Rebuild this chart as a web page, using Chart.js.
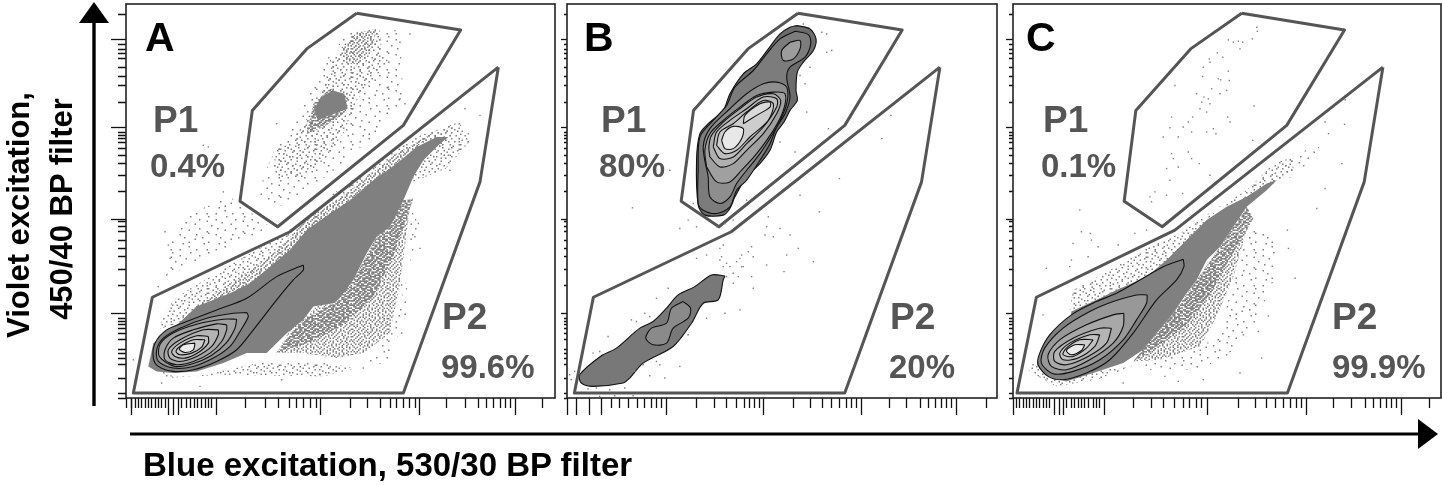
<!DOCTYPE html>
<html><head><meta charset="utf-8">
<style>
html,body{margin:0;padding:0;background:#fff;width:1442px;height:486px;overflow:hidden}
canvas{position:absolute;top:0}
.t{position:absolute;font-family:"Liberation Sans",Arial,sans-serif;font-weight:700;line-height:1;white-space:nowrap}
.g{color:#555}.k{color:#000}
.L{font-size:41px;top:17px}.P{font-size:37px}.N{font-size:33px}
.p1{top:101px}.n1{top:149px}.p2{top:298px}.n2{top:350px}
.ax{color:#000}
svg{position:absolute;left:0;top:0}
</style>
<script src="https://cdn.jsdelivr.net/npm/chart.js@4"></script>
</head><body>
<canvas id="ca" width="459" height="420" style="left:100px"></canvas>
<canvas id="cb" width="442" height="420" style="left:559px"></canvas>
<canvas id="cc" width="442" height="420" style="left:1003px"></canvas>
<svg width="1442" height="486">
<line x1="94" y1="20" x2="94" y2="406" stroke="#000" stroke-width="3.4"/>
<polygon points="94,2 79,23 109,23" fill="#000"/>
<line x1="130" y1="434" x2="1420" y2="434" stroke="#000" stroke-width="3.2"/>
<polygon points="1438,434 1418,419 1418,449" fill="#000"/>
</svg>
<div class="t k L" style="left:145px">A</div>
<div class="t g P p1" style="left:153px">P1</div><div class="t g N n1" style="left:150px">0.4%</div>
<div class="t g P p2" style="left:442px">P2</div><div class="t g N n2" style="left:441px">99.6%</div>
<div class="t k L" style="left:584px">B</div>
<div class="t g P p1" style="left:601px">P1</div><div class="t g N n1" style="left:599px">80%</div>
<div class="t g P p2" style="left:890px">P2</div><div class="t g N n2" style="left:889px">20%</div>
<div class="t k L" style="left:1026px">C</div>
<div class="t g P p1" style="left:1043px">P1</div><div class="t g N n1" style="left:1041px">0.1%</div>
<div class="t g P p2" style="left:1332px">P2</div><div class="t g N n2" style="left:1332px">99.9%</div>
<div class="t ax" style="left:143px;top:448px;font-size:33px">Blue excitation, 530/30 BP filter</div>
<div class="t ax" style="left:18px;top:215px;font-size:31px;transform:translate(-50%,-50%) rotate(-90deg)">Violet excitation,</div>
<div class="t ax" style="left:61px;top:209px;font-size:31px;transform:translate(-50%,-50%) rotate(-90deg)">450/40 BP filter</div>
<script>
// Channel units on both axes (unlabelled instrument scales)
const yMajor=[1077,813,538,253];
const yMinor=[1153,1062,1047,1035,1020,995,967,940,890,800,790,780,767,750,730,705,670,622,530,515,500,475,450,425,385,337,240,230,220,210,195,175,145,135,120,100,60,15,0];
const aXMajor=[15,126,141,156,270,584,880,1167];
const aXMinor=[0,17,27,37,47,57,67,77,87,97,107,117,167,182,192,204,214,227,237,247,257,357,419,457,490,512,532,552,570,672,724,762,792,812,832,850,867,962,1017,1057,1082,1102,1122,1137,1152,1249];
const bXMajor=[0,28,66,103,298,590,883,1168];
const bXMinor=[133,158,183,210,233,253,268,283,388,443,478,508,531,548,563,576,678,728,766,793,816,838,853,866,966,1018,1058,1083,1103,1123,1138,1153,1256];
const cXMajor=[0,125,140,150,275,582,878,1163];
const cXMinor=[10,20,30,40,50,60,70,80,90,100,110,160,175,185,195,205,215,225,240,250,260,360,415,450,485,510,530,550,565,675,725,760,785,810,830,850,865,960,1015,1055,1080,1100,1120,1135,1150,1247];

// Gates
const gateP1AB=[692,1157,1004,1107,832,820,455,515,342,592,379,865,542,1050];
const gateP2AB=[1117,995,1062,650,832,15,22,15,79,303,492,500];
const gateP1C=[685,1157,993,1107,820,820,447,515,333,592,368,865,532,1050];
const gateP2C=[1108,995,1052,650,822,15,12,15,70,303,485,505];

// Panel A: density regions
const aCloud=[67,95,82,165,142,210,212,275,312,315,372,345,432,395,492,445,542,505,612,555,672,595,742,655,812,705,872,755,932,785,967,785,942,765,892,715,862,665,832,595,792,515,752,485,722,435,682,355,652,315,622,285,562,275,532,235,482,195,422,135,362,135,292,105,212,80,142,75,92,80];
const aDense=[492,205,572,275,672,315,722,405,792,515,852,575,822,345,792,195,712,135,632,120,532,135,452,135];
const aNearCloud=[532,235,622,285,682,355,752,485,832,595,862,600,800,420,740,300,650,220,560,170,450,135];
const aBand=[202,270,312,345,432,425,542,535,672,625,812,735,932,805,872,755,672,590,362,315,212,270];
const aUpper=[92,205,142,295,202,335,322,405,452,480,532,535,622,615,762,715,872,785,992,825,962,765,852,725,612,535,492,425,362,315,222,245];
const aAbove=[122,355,132,465,192,555,312,605,432,515,312,455,192,405];
const aFringe=[62,105,142,65,242,70,392,105,592,105,692,90,592,65,292,70,122,60];
const aRightEdge=[852,575,880,520,840,350,800,200,720,110,780,100,840,250];
const aTail=[872,785,1000,830,1030,770,960,690,860,650];
const aP1Blob=[620,925,655,915,665,870,610,850,575,835,565,870,585,905];
const aP1BlobHalo=[542,795,562,885,612,930,667,905,652,855,592,815];
const aP1Top=[692,1100,752,1110,742,1065,702,1005,652,1005,652,1055];
const aP1Medium=[492,765,552,855,592,935,612,1015,682,1095,762,1105,772,995,692,895,652,795,592,715,532,665,452,665,442,745];
const aP1Sparse=[392,605,432,715,492,815,592,1005,672,1105,822,1105,832,895,752,795,612,675,472,575];
const aContours=[
 [532,400,452,365,362,300,272,265,182,230,122,205,87,165,82,120,97,95,142,80,202,85,272,110,332,145,382,205,452,295,502,355,532,385],
 [362,257,322,255,242,240,162,210,112,180,92,145,97,110,142,90,202,95,262,120,312,155,342,200,367,245],
 [332,237,292,237,212,222,140,195,103,163,100,125,147,95,200,103,255,127,300,165,327,210],
 [302,220,272,223,202,205,142,180,117,145,117,115,152,100,202,110,252,135,287,170,302,205],
 [277,205,232,205,162,175,127,145,132,120,162,110,212,125,257,155,277,190],
 [247,185,212,187,162,165,137,140,147,125,177,120,217,137,247,165],
 [237,175,202,175,162,155,150,140,162,130,197,135,227,153],
 [207,165,172,160,160,147,177,137,202,145]];
const aContourGrey=['#808080','#969696','#a0a0a0','#a8a8a8','#b4b4b4','#c2c2c2','#cecece','#ececec'];
const aDots=[852,1095,807,1105,822,1070,782,1015,787,935,822,900,837,885,1062,850,1017,870,1027,795,967,730,972,685,877,525,867,485,882,450,827,340,827,195,712,90,582,70,467,55,292,80,222,35,107,45,22,115,232,760,247,755,292,620,117,500,127,460,132,420,122,370,97,335,452,825];

// Panel B
const bContours=[
 [688,1120,728,1110,746,1080,738,1045,708,1010,690,980,686,925,690,895,668,865,650,830,628,800,608,745,578,705,538,665,503,605,488,570,468,550,413,550,393,580,388,715,398,795,423,825,468,865,488,915,528,975,568,1005,603,1050,638,1095,668,1115],
 [683,1103,723,1093,730,1065,713,1025,668,995,658,965,668,905,653,855,628,815,608,765,578,715,538,655,508,625,488,575,448,555,408,565,393,585,393,685,398,785,438,835,478,880,503,935,558,985,598,1035,638,1080],
 [668,1070,698,1075,698,1050,678,1020,648,1015,643,1045],
 [423,665,428,605,458,585,488,605,508,645,538,685,578,735,628,815,658,885,658,935,628,950,588,945,538,915,488,870,428,810,408,755],
 [418,695,448,650,488,650,523,685,568,735,618,805,648,865,653,915,618,920,568,910,518,875,468,835,428,795,413,745],
 [428,725,458,695,498,705,538,745,588,795,628,855,640,895,618,915,568,905,518,870,468,830,433,790,425,755],
 [438,755,458,720,498,725,538,765,588,815,628,875,628,900,588,905,538,870,488,835,448,800],
 [448,760,473,735,508,745,548,785,603,835,618,885,588,895,538,860,498,825,458,800],
 [528,825,568,850,608,875,608,890,578,885,533,850],
 [463,775,473,750,498,750,523,780,528,810,498,817,473,800]];
const bContourGrey=['#6c6c6c','#7c7c7c','#9c9c9c','#8e8e8e','#a0a0a0','#b0b0b0','#bebebe','#cdcdcd','#dadada','#e8e8e8'];
const bLow=[473,367,433,370,383,335,333,310,298,270,258,230,218,210,148,150,103,127,38,70,43,45,78,35,168,45,188,60,228,105,318,155,373,225,408,285,453,295,468,355];
const bLowInner=[348,290,370,270,363,240,318,210,298,165,258,160,236,180,253,210,298,225,313,270];
const bDots=[8,70,13,55,23,80,78,135,98,140,123,185,193,235,208,230,233,255,248,245,268,300,303,330,308,275,203,80,248,67,228,100,268,110,278,100,338,95,293,60,363,190,418,240,473,255,518,265,388,420,418,430,458,450,468,460,463,425,478,405,508,410,518,420,528,395,498,375,478,365,553,455,598,515,603,545,638,510,593,490,618,485,668,490,693,450,658,430,650,380,738,410,553,365,558,330,498,345,523,430,458,415,543,440,558,425,598,400,468,395,488,395,513,365,523,395,338,510,363,535,388,515,378,585,448,515,473,525,498,535,196,572,308,685,698,610,756,560,816,660,943,780,970,850,783,810,718,860,713,945,698,970,728,995,778,1040,793,1045,763,1100,778,1095,708,1125,683,740,638,770,538,595,98,5,143,7,198,7,63,27,128,25,88,30,173,30];

// Panel C
const cCloud=[790,655,760,645,700,605,640,575,580,535,520,475,460,415,400,365,310,325,260,300,175,260,170,225,130,195,90,155,75,100,110,65,160,50,240,75,330,105,390,145,430,195,480,255,520,315,550,355,580,415,620,455,660,515,700,575,760,625];
const cDense=[430,195,480,255,560,355,600,405,660,475,700,505,660,365,610,245,560,155,440,115,360,110];
const cNearCloud=[430,195,480,255,550,355,620,455,700,575,720,540,650,420,590,310,520,220,430,150,360,110];
const cSparse=[700,515,790,495,790,375,730,235,680,155,580,95,460,75,360,95,610,175,660,345];
const cUpper=[170,265,180,325,290,385,410,455,500,495,600,565,700,625,780,705,840,725,840,685,750,625,610,565,510,450,380,355,260,285];
const cTail=[760,635,840,725,920,770,910,725,820,655];
const cFringe=[45,85,75,65,130,35,250,55,360,95,260,85,110,70,80,110];
const cContours=[
 [510,417,450,395,380,355,310,315,250,290,175,250,110,190,80,135,75,100,105,65,150,55,220,75,290,115,360,195,430,295,490,355,512,395],
 [402,310,370,310,300,290,230,260,150,210,95,150,85,105,120,73,180,80,260,115,330,175,370,235,400,285],
 [332,255,300,250,220,220,140,175,105,130,115,95,160,85,230,115,300,165,330,215],
 [295,210,260,210,180,180,125,140,125,110,160,100,225,125,280,165],
 [260,190,230,190,170,165,140,135,150,115,195,120,245,155],
 [240,175,200,175,160,150,150,130,180,125,220,150],
 [215,160,185,160,160,143,175,130,205,143]];
const cContourGrey=['#808080','#989898','#a8a8a8','#b4b4b4','#c2c2c2','#cecece','#ececec'];
const cDots=[730,1115,732,1103,645,1077,660,1070,675,1073,688,1070,717,1080,680,1050,588,1020,590,1010,612,1038,628,1025,570,995,568,967,485,940,645,983,615,960,622,957,648,955,595,930,550,915,572,905,585,900,620,915,640,925,565,890,590,885,560,870,580,860,722,878,475,845,538,845,525,830,643,845,650,830,510,815,470,813,535,800,600,810,608,795,450,785,495,785,580,800,475,735,480,720,525,740,535,720,558,705,460,690,495,695,470,655,425,620,410,605,415,590,508,615,460,610,590,670,718,775,935,830,993,823,995,897,945,795,985,705,935,630,910,570,822,505,825,450,845,360,765,247,735,200,690,190,640,130,745,120,200,565,100,390,205,500,232,495,235,475,180,465,255,455,315,460,175,415,225,425,170,395,365,495,400,505,90,250,60,100,330,45,495,50,570,55,455,65,680,75];

// Fixed speckle texture for regions too dense to list dot by dot
const speckleMask=["1..3..2.3...1..3.2..3..2",".3.2...3..2.3...3..2..3.","..3..1..3...2.3...1..3..","2...3..2..3..3..2...3..1",".3.2..3..1...2..3.3...2.","3...3...2.3.3..1...2.3..","..1..3.3...2..3..3...3.2",".3..2...3.3..2...2.3....","3..3..1.2...3..3..1..2.3","..2..3...3.1..2...3.3...",".3..3..2.....3..3...2..1","1..2..3..3.2..3..2.3..3.",".3...1..3..3....1...3...","..3.2.3...2..3.3..2..3.2","3....3..1.3..2...3..1...",".2.3...3...3...1.3..3.2.","..3..2...2..3.2...2...3.","1...3..3.3.1...3.3..3...",".3.2...1...3.3...2...1.3","..3..3.2.3...2.3..3.3...","3...2...3..1...3..2..3.2",".2.3..3...2.3.2..3...3..","...3.1.3.3...3..1.3.2..1",".3...2...3.2...3...3..3."];
function speckle(level){
  const c=document.createElement('canvas');c.width=c.height=36;
  const x=c.getContext('2d');x.fillStyle='#808080';
  speckleMask.forEach((row,j)=>[...row].forEach((ch,i)=>{
    if(ch==='.'||+ch>Math.min(level,3))return;
    x.fillRect(i*1.5,j*1.5,level>3?3:1.5,1.5);}));
  return x.createPattern(c,'repeat');
}
const SPARSE=speckle(1),MEDIUM=speckle(2),DENSE=speckle(3),PACKED=speckle(4);

const pts=f=>{const o=[];for(let i=0;i<f.length;i+=2)o.push({x:f[i],y:f[i+1]});return o;};
const ring=f=>{const o=pts(f);o.push(o[0]);return o;};
const region=(f,fill)=>({data:ring(f),showLine:true,fill:'shape',backgroundColor:fill,borderColor:'rgba(0,0,0,0)',borderWidth:0,pointRadius:0,tension:0});
const contour=(f,fill)=>({data:ring(f),showLine:true,fill:'shape',backgroundColor:fill,borderColor:'#111',borderWidth:1.1,pointRadius:0,tension:0.3});
const gate=f=>({data:ring(f),showLine:true,fill:false,borderColor:'#555',borderWidth:3,borderJoinStyle:'round',pointRadius:0,tension:0});
const dots=f=>({data:pts(f),showLine:false,pointStyle:'rect',pointRadius:1,pointBorderWidth:0,backgroundColor:'#808080',borderWidth:0});

const frame={id:'frame',afterDraw(ch){const a=ch.chartArea,c=ch.ctx;c.save();c.strokeStyle='#222';c.lineWidth=1.6;c.strokeRect(a.left,a.top,a.width,a.height);c.restore();}};

function panel(id,layers,xMajor,xMinor,xMax,yW,yLong,yShort){
  const axis=(major,minor,w,longLen,shortLen,max,isX)=>({
    type:'linear',min:0,max:max,position:isX?'bottom':'left',
    border:{display:false},
    grid:{drawOnChartArea:false,drawTicks:true,tickLength:longLen,tickColor:'#111',tickWidth:1.3,
      tickBorderDash:ctx=>major.includes(ctx.tick&&ctx.tick.value)?[]:(isX?[shortLen,60]:[0,longLen-shortLen,shortLen,60])},
    ticks:{display:false,autoSkip:false,maxRotation:0},
    afterBuildTicks:s=>{s.ticks=[...major,...minor].sort((p,q)=>p-q).map(v=>({value:v}));},
    afterFit:s=>{if(isX)s.height=w;else s.width=w;}
  });
  // Chart.js paints the first dataset last, so the painter's-order list is reversed
  new Chart(document.getElementById(id),{type:'scatter',data:{datasets:layers.slice().reverse()},plugins:[frame],options:{
    responsive:false,animation:false,
    layout:{padding:{top:2,right:1,left:0,bottom:0}},
    plugins:{legend:{display:false},tooltip:{enabled:false}},
    scales:{x:axis(xMajor,xMinor,22,17,10,xMax,true),y:axis(yMajor,yMinor,yW,yLong,yShort,1185,false)}
  }});
}

panel('ca',[
  region(aAbove,SPARSE),region(aFringe,MEDIUM),region(aRightEdge,SPARSE),region(aTail,MEDIUM),region(aUpper,MEDIUM),region(aBand,DENSE),region(aDense,DENSE),region(aNearCloud,PACKED),
  region(aP1Sparse,SPARSE),region(aP1Medium,MEDIUM),region(aP1Top,DENSE),region(aP1BlobHalo,PACKED),region(aP1Blob,'#808080'),
  region(aCloud,'#808080'),
  ...aContours.map((c,i)=>contour(c,aContourGrey[i])),
  gate(gateP1AB),gate(gateP2AB),dots(aDots)
],aXMajor,aXMinor,1287,26,15,8);

panel('cb',[
  ...bContours.map((c,i)=>contour(c,bContourGrey[i])),
  contour(bLow,'#787878'),contour(bLowInner,'#8a8a8a'),
  gate(gateP1AB),gate(gateP2AB),dots(bDots)
],bXMajor,bXMinor,1288,8,6,3);

panel('cc',[
  region(cSparse,SPARSE),region(cFringe,MEDIUM),region(cUpper,MEDIUM),region(cTail,SPARSE),region(cDense,DENSE),region(cNearCloud,PACKED),
  region(cCloud,'#808080'),
  ...cContours.map((c,i)=>contour(c,cContourGrey[i])),
  gate(gateP1C),gate(gateP2C),dots(cDots)
],cXMajor,cXMinor,1282,10,7,4);
</script>
</body></html>
